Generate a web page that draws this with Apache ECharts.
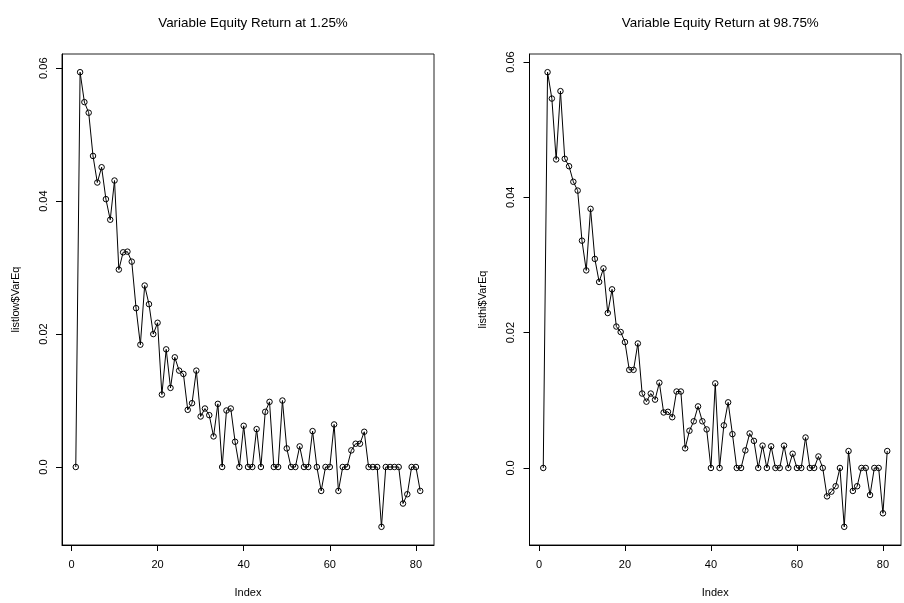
<!DOCTYPE html>
<html>
<head>
<meta charset="utf-8">
<script src="https://cdn.jsdelivr.net/npm/echarts@6/dist/echarts.min.js"></script>
<style>
html,body{margin:0;padding:0;background:#fff;}
#c{width:904px;height:603px;}
</style>
</head>
<body>
<div id="c"></div>
<script>
var titles = ['Variable Equity Return at 1.25%', 'Variable Equity Return at 98.75%'];
var yNames = ['listlow$VarEq', 'listhi$VarEq'];
var xName = 'Index';
var xTicks = [0, 20, 40, 60, 80];
var yTicks = [0, 0.02, 0.04, 0.06];
var yTickLabels = ['0.0', '0.02', '0.04', '0.06'];

var lowVals = [
  0, 0.0594, 0.0549, 0.0533, 0.0468, 0.0428, 0.0451, 0.0403, 0.0372, 0.0431,
  0.0297, 0.0323, 0.0324, 0.0309, 0.0239, 0.0184, 0.0273, 0.0245, 0.0200, 0.0217,
  0.0109, 0.0177, 0.0119, 0.0165, 0.0145, 0.0140, 0.0086, 0.0096, 0.0145, 0.0076,
  0.0088, 0.0078, 0.0046, 0.0095, 0, 0.0085, 0.0088, 0.0038, 0, 0.0062,
  0, 0, 0.0057, 0, 0.0083, 0.0098, 0, 0, 0.0100, 0.0028,
  0, 0, 0.0031, 0, 0, 0.0054, 0, -0.0036, 0, 0,
  0.0064, -0.0036, 0, 0, 0.0025, 0.0035, 0.0035, 0.0053, 0, 0,
  0, -0.0090, 0, 0, 0, 0, -0.0055, -0.0041, 0, 0,
  -0.0036
];
var hiVals = [
  0, 0.0585, 0.0546, 0.0456, 0.0557, 0.0457, 0.0446, 0.0423, 0.0410, 0.0336,
  0.0292, 0.0383, 0.0309, 0.0275, 0.0295, 0.0229, 0.0264, 0.0209, 0.0201, 0.0186,
  0.0145, 0.0145, 0.0184, 0.0110, 0.0098, 0.0110, 0.0101, 0.0126, 0.0082, 0.0083,
  0.0075, 0.0113, 0.0113, 0.0029, 0.0055, 0.0069, 0.0091, 0.0069, 0.0057, 0,
  0.0125, 0, 0.0063, 0.0097, 0.0050, 0, 0, 0.0026, 0.0051, 0.0040,
  0, 0.0033, 0, 0.0032, 0, 0, 0.0033, 0, 0.0021, 0,
  0, 0.0045, 0, 0, 0.0017, 0, -0.0042, -0.0035, -0.0027, 0,
  -0.0087, 0.0025, -0.0034, -0.0027, 0, 0, -0.0040, 0, 0, -0.0067,
  0.0025
];

function pairs(vals) { return vals.map(function (v, i) { return [i + 1, v]; }); }
function ext(vals) {
  var mn = Math.min.apply(null, vals), mx = Math.max.apply(null, vals), r = mx - mn;
  return [mn - 0.04 * r, mx + 0.04 * r];
}
var n = lowVals.length;
var xr = n - 1;
var xMin = 1 - 0.04 * xr, xMax = n + 0.04 * xr;

var font = 'Liberation Sans, Arial, Helvetica, sans-serif';
var ink = '#000';
var grids = [
  {left: 62, top: 54, width: 372, height: 491},
  {left: 529.5, top: 54, width: 371.5, height: 491}
];
var allVals = [lowVals, hiVals];

var option = {
  animation: false,
  backgroundColor: '#fff',
  title: titles.map(function (t, k) {
    return {
      text: t, left: grids[k].left + grids[k].width / 2, top: 12, textAlign: 'center',
      textStyle: {fontFamily: font, fontSize: 13.4, fontWeight: 'normal', color: ink}
    };
  }),
  grid: grids.map(function (g) {
    return {left: g.left, top: g.top, width: g.width, height: g.height, show: true,
      borderColor: '#222', borderWidth: 1, backgroundColor: 'transparent'};
  }),
  xAxis: grids.map(function (g, k) {
    return {
      type: 'value', gridIndex: k, min: xMin, max: xMax,
      name: xName, nameLocation: 'middle', nameGap: 42,
      nameTextStyle: {fontFamily: font, fontSize: 11, color: ink},
      axisLine: {show: true, onZero: false, lineStyle: {color: ink, width: 1}},
      axisTick: {show: true, length: 6, customValues: xTicks, lineStyle: {color: ink}},
      axisLabel: {customValues: xTicks, margin: 14, fontFamily: font, fontSize: 11, color: ink},
      splitLine: {show: false}
    };
  }),
  yAxis: grids.map(function (g, k) {
    var e = ext(allVals[k]);
    return {
      type: 'value', gridIndex: k, min: e[0], max: e[1],
      name: yNames[k], nameLocation: 'middle', nameGap: 41, nameRotate: 90,
      nameTextStyle: {fontFamily: font, fontSize: 11, color: ink},
      axisLine: {show: true, onZero: false, lineStyle: {color: ink, width: 1}},
      axisTick: {show: true, length: 6, customValues: yTicks, lineStyle: {color: ink}},
      axisLabel: {
        customValues: yTicks, rotate: 90, margin: 13, fontFamily: font, fontSize: 11, color: ink,
        formatter: function (v) {
          for (var i = 0; i < yTicks.length; i++) if (Math.abs(v - yTicks[i]) < 1e-9) return yTickLabels[i];
          return '';
        }
      },
      splitLine: {show: false}
    };
  }),
  series: allVals.map(function (vals, k) {
    return {
      type: 'line', xAxisIndex: k, yAxisIndex: k, data: pairs(vals),
      symbol: 'circle', symbolSize: 5.5, showAllSymbol: true,
      lineStyle: {color: ink, width: 1},
      itemStyle: {color: 'rgba(0,0,0,0)', borderColor: ink, borderWidth: 1},
      z: 3
    };
  })
};
echarts.init(document.getElementById('c'), null, {renderer: 'canvas'}).setOption(option);
</script>
</body>
</html>
